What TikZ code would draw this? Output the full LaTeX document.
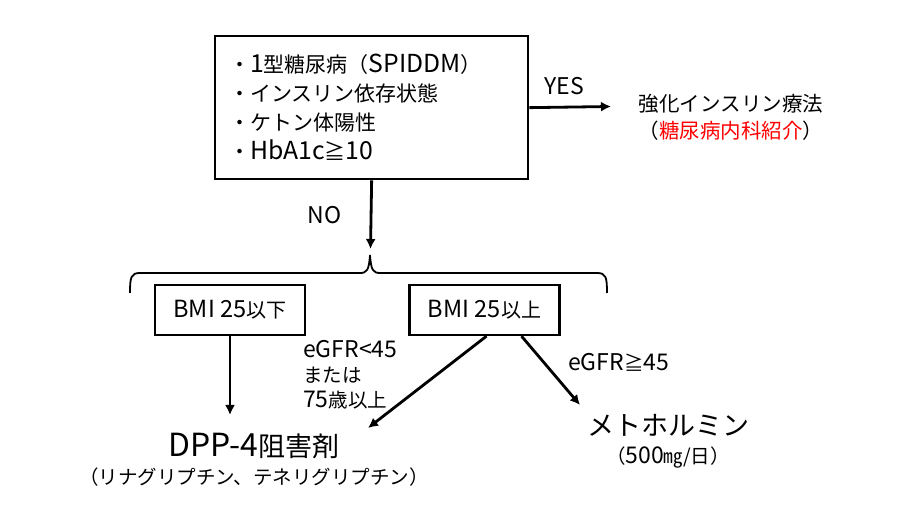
\documentclass[tikz,border=0pt]{standalone}
\usepackage{fontspec}
\setmainfont{Noto Sans CJK JP}
\newfontfamily\latinfont{Noto Sans CJK JP}[Scale=1.18]
\newcommand{\latn}[1]{{\latinfont #1}}
\usetikzlibrary{arrows.meta}

\tikzstyle{box}=[draw,line width=2.3pt,minimum height=50pt,inner sep=0pt]
\tikzstyle{arr}=[line width=2.8pt,-{Latex[length=10pt,width=10pt]}]
\tikzstyle{lbl}=[inner sep=0pt,font=\fontsize{19.5}{25}\selectfont]
\tikzstyle{big}=[inner sep=0pt,font=\fontsize{27}{30}\selectfont]

\begin{document}
\begin{tikzpicture}[x=1pt,y=-1pt]
    \useasboundingbox (0,0) rectangle (906,529);
    %Condition box
    \node[box,anchor=north west,minimum width=313pt,minimum height=143pt,
          inner xsep=14pt,text width=285pt,align=left,
          font=\fontsize{21}{29}\selectfont] (cond) at (214,35)
          {・\latn{1}型糖尿病（\latn{SPIDDM}）\\・インスリン依存状態\\・ケトン体陽性\\・\latn{HbA1c}≧\latn{10}};
    %YES branch
    \coordinate (yesend) at (611,106.5);
    \draw[arr] (cond.east) -- (yesend) node[lbl,pos=0.43,above=11pt] (yes) {\latn{YES}};
    \node[lbl,align=center,font=\fontsize{20.5}{27}\selectfont] (insulin) at (731,117)
          {強化インスリン療法\\（\textcolor{red}{糖尿病内科紹介}）};
    %NO branch
    \coordinate (bracetip) at (370.5,249);
    \draw[arr] (cond.south) -- (bracetip) node[lbl,midway,left=28pt] (no) {\latn{NO}};
    \draw[line width=1.8pt] (130,293) .. controls (130,277) and (131,273) .. (140,273)
          -- (360,273) .. controls (367,273) and (369,270) .. (370,255)
          .. controls (371,270) and (373,273) .. (380,273)
          -- (597,273) .. controls (606,273) and (607,277) .. (607,293);
    %BMI nodes
    \foreach \pos/\name/\txt in {{(230,310)/low/\latn{BMI 25}以下}, {(484.5,310)/high/\latn{BMI 25}以上}}
    \node[box,minimum width=150pt,font=\fontsize{20}{24}\selectfont] (\name) at \pos {\txt};
    %Drugs
    \node[big] (dpp) at (254,446) {\latn{DPP-4}阻害剤};
    \node[lbl] (dppsub) at (254,477) {（リナグリプチン、テネリグリプチン）};
    \node[big] (met) at (668,425) {メトホルミン};
    \node[lbl] (metsub) at (668,458) {（\latn{500}㎎/日）};
    \coordinate (dppa) at (230,415);
    \coordinate (dppb) at (368,428);
    \coordinate (metin) at (580,405);
    \draw[arr] (low.south) -- (dppa);
    \draw[arr] ([xshift=2pt]high.south) -- (dppb);
    \draw[arr] ([xshift=37pt]high.south) -- (metin);
    %Renal labels
    \node[lbl,anchor=west,align=left] (renal) at (303,375) {\latn{eGFR<45}\\または\\\latn{75}歳以上};
    \node[lbl,anchor=west] (renalok) at (568,362) {\latn{eGFR}≧\latn{45}};
\end{tikzpicture}
\end{document}
